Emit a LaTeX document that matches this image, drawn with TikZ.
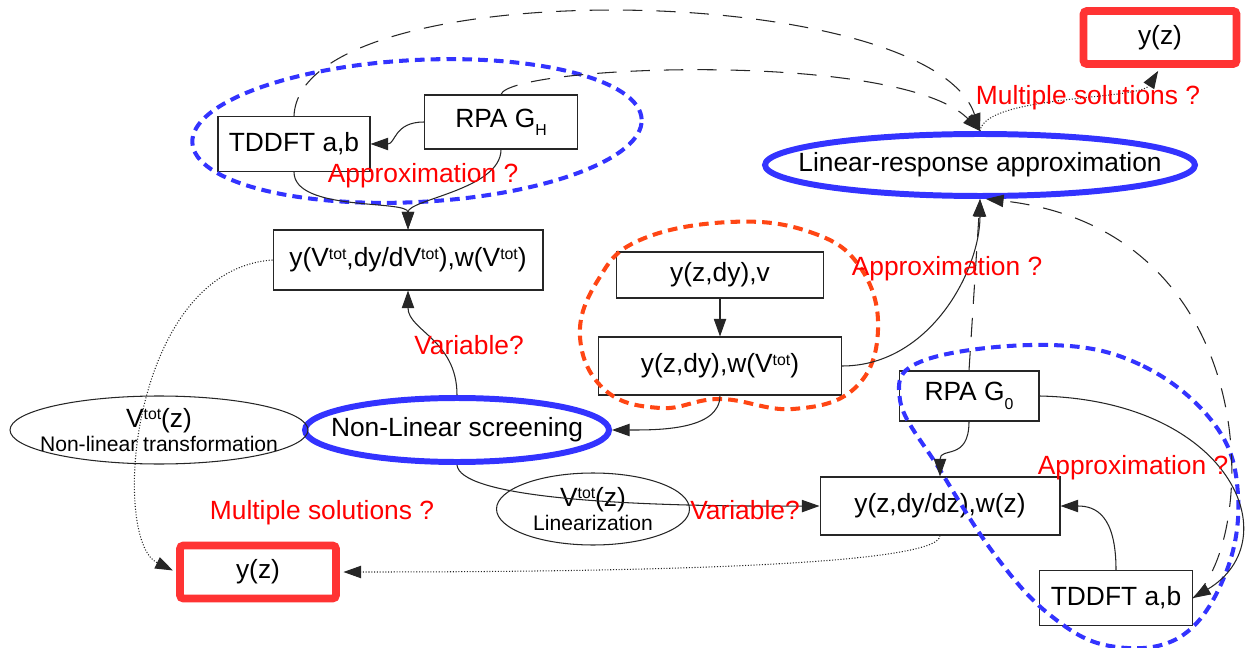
\documentclass[tikz,border=0pt]{standalone}
\usepackage{fontspec}
\setmainfont{Liberation Sans}
\usepackage{tikz}
\usetikzlibrary{arrows.meta}
\usetikzlibrary{shapes.geometric}
\definecolor{lrblue}{RGB}{51,51,255}
\definecolor{boxred}{RGB}{255,51,51}
\definecolor{blobred}{RGB}{255,70,20}
\newcommand{\sptot}{\raisebox{0.55ex}{\fontsize{9}{9}\selectfont tot}}
\newcommand{\sbidx}[1]{\raisebox{-0.6ex}{\fontsize{9}{9}\selectfont #1}}

\begin{document}
\begin{tikzpicture}[x=0.02cm,y=-0.02cm,
	font=\fontsize{15}{18}\selectfont,
	box/.style={draw=black!85,line width=0.6pt,inner sep=0pt},
	oval/.style={draw=black!85,line width=0.6pt,shape=ellipse,inner xsep=-30pt,inner ysep=-3pt,align=center},
	bigoval/.style={oval,draw=lrblue,line width=3.4pt},
	result/.style={box,draw=boxred,line width=4.5pt,rounded corners=2pt},
	note/.style={text=red},
	link/.style={-{Triangle[length=10pt,width=7pt]},line width=0.6pt,black!85},
	dashlink/.style={link,dash pattern=on 11pt off 8pt},
	dotlink/.style={link,densely dotted,shorten >=2pt},
	groupline/.style={line width=2.3pt,dash pattern=on 5.5pt off 3.5pt}]
	\useasboundingbox (0,0) rectangle (1250,648);
	\draw (294,144) node(td1) [box,minimum width=3.04cm,minimum height=1.1cm] {TDDFT a,b};
	\draw (501,122) node(rpah) [box,minimum width=3.06cm,minimum height=1.08cm] {RPA G\sbidx{H}};
	\draw (408,260) node(yv) [box,minimum width=5.4cm,minimum height=1.2cm] {y(V\sptot,dy/dV\sptot),w(V\sptot)};
	\draw (720,275) node(yzv) [box,minimum width=4.14cm,minimum height=0.92cm] {y(z,dy),v};
	\draw (720,366) node(yzw) [box,minimum width=4.86cm,minimum height=1.16cm] {y(z,dy),w(V\sptot)};
	\draw (940,506) node(yzdz) [box,minimum width=4.8cm,minimum height=1.16cm] {y(z,dy/dz),w(z)};
	\draw (969,396) node(rpa0) [box,minimum width=2.8cm,minimum height=1cm] {RPA G\sbidx{0}};
	\draw (1116,598) node(td2) [box,minimum width=3.06cm,minimum height=1.1cm] {TDDFT a,b};
	\draw (1160,37.5) node(yzt) [result,minimum width=3.06cm,minimum height=1.06cm] {y(z)};
	\draw (258,572) node(yzb) [result,minimum width=3.12cm,minimum height=1.06cm] {y(z)};
	\draw (980,165) node(lra) [bigoval,minimum width=8.6cm,minimum height=1.24cm] {Linear-response approximation};
	\draw (457,430) node(nls) [bigoval,minimum width=6.08cm,minimum height=1.28cm] {Non-Linear screening};
	\draw (159,430) node(nlt) [oval,minimum width=5.96cm,minimum height=1.36cm] {V\sptot(z)\\[-4pt]\fontsize{12}{14}\selectfont Non-linear transformation};
	\draw (593,509) node(lin) [oval,minimum width=3.86cm,minimum height=1.44cm] {V\sptot(z)\\[-4pt]\fontsize{12}{14}\selectfont Linearization};
	\draw[groupline,lrblue,rotate around={3:(417,131)}] (417,131) ellipse [x radius=4.5cm,y radius=1.42cm];
	\draw[groupline,blobred] plot[smooth cycle,tension=0.7] coordinates {(730,222) (810,232) (860,267) (878,330) (855,388) (793,409) (720,399) (660,408) (605,390) (580,337) (598,280) (640,240)};
	\draw[groupline,lrblue] plot[smooth cycle,tension=0.65] coordinates {(1050,345) (1143,366) (1215,425) (1238,495) (1225,575) (1180,637) (1110,646) (1050,615) (995,555) (940,470) (900,400) (925,360)};
	\draw[link] (rpah.west) .. controls +(-30,0) and +(25,0) .. (td1.east);
	\draw[link] (td1.south) .. controls +(0,40) and +(0,-30) .. (yv.north);
	\draw[link] (rpah.south) .. controls +(0,40) and +(0,-30) .. (yv.north);
	\draw[link] (yzv) -- (yzw);
	\draw[link] (yzw.east) .. controls (930,366) and (980,270) .. (lra.south);
	\draw[link] (yzw.south) .. controls +(0,35) and +(45,0) .. (nls.east);
	\draw[link] (nls.north) .. controls +(0,-55) and +(0,40) .. (yv.south);
	\draw[link] (nls.south) .. controls (460,495) and (600,507) .. (yzdz.west);
	\draw[link] (rpa0.south) .. controls +(0,40) and +(0,-30) .. (yzdz.north);
	\draw[link] (td2.north) .. controls +(0,-55) and +(35,0) .. (yzdz.east);
	\draw[link] (rpa0.east) .. controls (1230,400) and (1290,540) .. (td2.east);
	\draw[dashlink] (td1.north) .. controls (300,-30) and (930,-20) .. (lra.north);
	\draw[dashlink] (rpah.north) .. controls (510,65) and (900,50) .. (lra.north);
	\draw[dashlink] (rpa0.north) -- (lra.south);
	\draw[dashlink] (td2.east) .. controls (1260,540) and (1265,230) .. (lra.-80);
	\draw[dotlink] (lra.north) .. controls (985,95) and (1140,100) .. (yzt.south);
	\draw[dotlink] (yv.west) .. controls (130,270) and (110,540) .. (yzb.west);
	\draw[dotlink] (yzdz.south) .. controls +(0,30) and +(300,0) .. (yzb.east);
	\node (apxh) at (423,176) [note] {Approximation ?};
	\node (msol1) at (1088,98) [note] {Multiple solutions ?};
	\node (apxm) at (947,269) [note] {Approximation ?};
	\node (var1) at (469,345) [note] {Variable?};
	\node (var2) at (745,510) [note] {Variable?};
	\node (msol2) at (322,513) [note] {Multiple solutions ?};
	\node (apx0) at (1133,468) [note] {Approximation ?};
\end{tikzpicture}
\end{document}
